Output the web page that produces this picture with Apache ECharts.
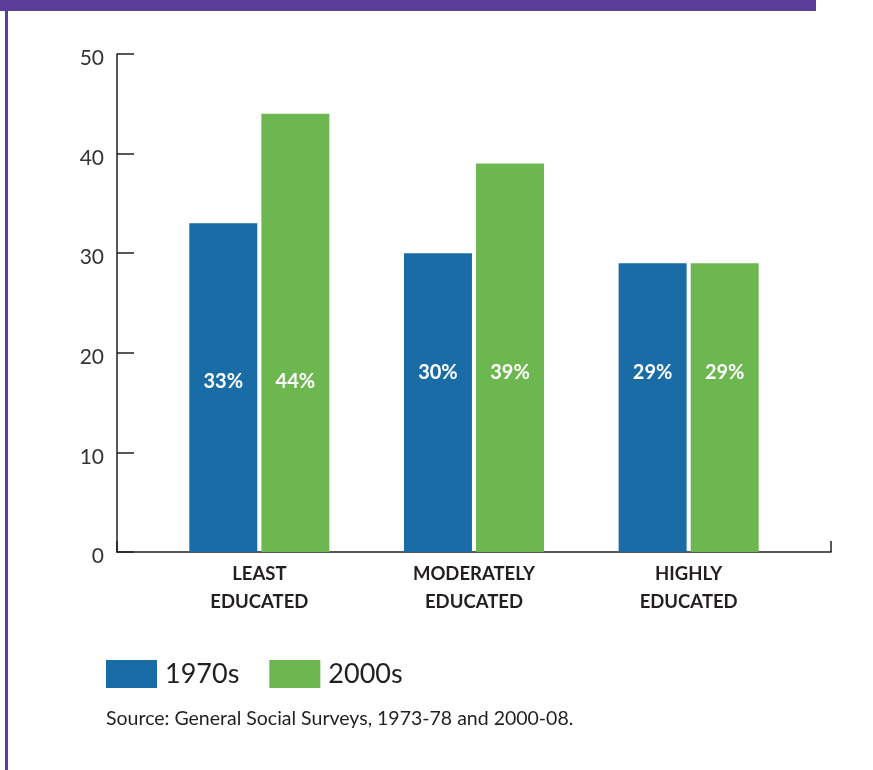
<!DOCTYPE html>
<html>
<head>
<meta charset="utf-8">
<script src="https://cdn.jsdelivr.net/npm/echarts@6/dist/echarts.min.js"></script>
<style>
  html, body { margin: 0; padding: 0; background: #ffffff; }
  #chart { width: 873px; height: 770px; }
</style>
</head>
<body>
<div id="chart"></div>
<script>
// Education groups shown along the horizontal axis
const categories = ['LEAST\nEDUCATED', 'MODERATELY\nEDUCATED', 'HIGHLY\nEDUCATED'];
// Share of each group (percent) in the two survey periods
const values1970s = [33, 30, 29];
const values2000s = [44, 39, 29];
const seriesNames = ['1970s', '2000s'];
// Value axis tick labels
const yTicks = [0, 10, 20, 30, 40, 50];

const FONT = 'Lato, "Open Sans", sans-serif';
const INK = '#231f20';
const BLUE = '#1a6ca6';
const GREEN = '#6cb74f';
const PURPLE = '#5a3e98';

// How high the in-bar percentage sits above the baseline, per group
const labelLift = [160, 169, 169];

function barData(values) {
  return values.map((v, i) => ({
    value: v,
    label: { distance: labelLift[i] }
  }));
}

const chart = echarts.init(document.getElementById('chart'), null, { renderer: 'canvas' });

const barLabel = {
  show: true,
  position: 'insideBottom',
  formatter: '{c}%',
  fontFamily: FONT,
  fontSize: 20,
  fontWeight: 'bold',
  color: '#ffffff'
};

const option = {
  animation: false,
  backgroundColor: '#ffffff',
  textStyle: { fontFamily: FONT },
  grid: [
    { left: 152, right: 77, top: 54, bottom: 218 },
    { left: 117, right: 42, top: 54, bottom: 218 }
  ],
  legend: {
    data: seriesNames,
    left: 106,
    top: 660,
    padding: 0,
    itemWidth: 51,
    itemHeight: 28,
    itemGap: 30,
    icon: 'rect',
    textStyle: { fontFamily: FONT, fontSize: 27, color: INK, padding: [5, 0, 0, 3] }
  },
  title: {
    text: 'Source: General Social Surveys, 1973-78 and 2000-08.',
    left: 106,
    top: 709,
    padding: 0,
    textStyle: { fontFamily: FONT, fontSize: 19.5, fontWeight: 'normal', color: INK }
  },
  xAxis: [
    {
      type: 'category',
      gridIndex: 0,
      data: categories,
      axisLine: { show: false },
      axisTick: { show: false },
      axisLabel: {
        margin: 8,
        fontFamily: FONT,
        fontSize: 18.5,
        fontWeight: 'bold',
        lineHeight: 28,
        color: INK
      }
    },
    {
      // Full-width baseline with a short end tick
      type: 'category',
      gridIndex: 1,
      data: categories,
      axisLine: { show: true, lineStyle: { color: INK, width: 1.5 } },
      axisTick: {
        show: true,
        inside: true,
        length: 11,
        interval: (index) => index === 0,
        lineStyle: { color: INK, width: 1.5 }
      },
      axisLabel: { show: false }
    }
  ],
  yAxis: [
    {
      type: 'value',
      gridIndex: 0,
      min: yTicks[0],
      max: yTicks[yTicks.length - 1],
      interval: yTicks[1] - yTicks[0],
      offset: 35,
      splitLine: { show: false },
      axisLine: { show: true, lineStyle: { color: INK, width: 1.5 } },
      axisTick: { show: true, inside: true, length: 17, lineStyle: { color: INK, width: 1.5 } },
      axisLabel: {
        margin: 13,
        fontFamily: FONT,
        fontSize: 21,
        color: '#333333',
        verticalAlign: 'top',
        lineHeight: 9
      }
    },
    {
      type: 'value',
      gridIndex: 1,
      min: 0,
      max: 50,
      show: false
    }
  ],
  series: [
    {
      name: seriesNames[0],
      type: 'bar',
      xAxisIndex: 0,
      yAxisIndex: 0,
      data: barData(values1970s),
      barWidth: 68,
      barGap: '6%',
      itemStyle: { color: BLUE },
      label: barLabel
    },
    {
      name: seriesNames[1],
      type: 'bar',
      xAxisIndex: 0,
      yAxisIndex: 0,
      data: barData(values2000s),
      barWidth: 68,
      barGap: '6%',
      itemStyle: { color: GREEN },
      label: barLabel
    }
  ],
  graphic: [
    // Page frame: top band and left rule
    { type: 'rect', shape: { x: 0, y: 0, width: 816, height: 11 }, style: { fill: PURPLE }, silent: true },
    { type: 'rect', shape: { x: 5, y: 0, width: 3, height: 770 }, style: { fill: PURPLE }, silent: true }
  ]
};

chart.setOption(option);
</script>
</body>
</html>
